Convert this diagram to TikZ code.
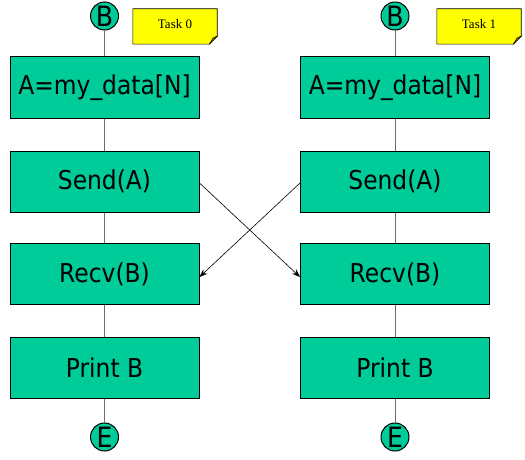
\documentclass[tikz,border=0pt]{standalone}
\usepackage{fontspec}
\newfontfamily\boxfont{DejaVu Sans}[FakeStretch=0.9]
\newfontfamily\notefont{Liberation Serif}
\definecolor{boxgreen}{RGB}{0,204,153}
\definecolor{noteyellow}{RGB}{255,255,0}
\definecolor{linegray}{RGB}{110,110,110}
\tikzset{
  stepbox/.style={draw=black, line width=1pt, fill=boxgreen, minimum width=189pt, minimum height=61pt, inner sep=0pt, font=\boxfont\fontsize{26}{30}\selectfont},
  term/.style={circle, draw=black, line width=1pt, fill=boxgreen, minimum size=28pt, inner sep=0pt, font=\boxfont\fontsize{28}{30}\selectfont},
  vline/.style={draw=linegray, line width=0.9pt},
  xarrow/.style={draw=black, line width=0.6pt, -{Stealth[length=8pt,width=6pt]}},
  notebox/.style={minimum width=84pt, minimum height=35pt, inner sep=0pt},
}
\usetikzlibrary{arrows.meta}
\begin{document}
\begin{tikzpicture}[x=1pt,y=1pt]
\useasboundingbox (0,0) rectangle (525,459);
% left column
\node[term] (b0) at (104.5,443) {B};
\node[stepbox] (a0) at (104.5,371.5) {A=my\_data[N]};
\node[stepbox] (s0) at (104.5,277.5) {Send(A)};
\node[stepbox] (r0) at (104.5,185) {Recv(B)};
\node[stepbox] (p0) at (104.5,91.5) {Print B};
\node[term] (e0) at (104.5,22) {E};
% right column
\node[term] (b1) at (395,443) {B};
\node[stepbox] (a1) at (395,371.5) {A=my\_data[N]};
\node[stepbox] (s1) at (395,277.5) {Send(A)};
\node[stepbox] (r1) at (395,185) {Recv(B)};
\node[stepbox] (p1) at (395,91.5) {Print B};
\node[term] (e1) at (395,22) {E};
% vertical connectors
\foreach \c in {0,1}{
  \draw[vline] (b\c) -- (a\c);
  \draw[vline] (a\c) -- (s\c);
  \draw[vline] (s\c) -- (r\c);
  \draw[vline] (r\c) -- (p\c);
  \draw[vline] (p\c) -- (e\c);
}
% crossing messages
\draw[xarrow] ([yshift=-1.5pt]s0.east) -- ([yshift=-3pt]r1.west);
\draw[xarrow] ([yshift=-1.5pt]s1.west) -- ([yshift=-3pt]r0.east);
% notes
\foreach \n/\x/\t in {n0/175/Task 0, n1/479/Task 1}{
  \node[notebox] (\n) at (\x,432.5) {};
  \fill[noteyellow] (\n.north west) -- (\n.north east) -- ([yshift=8pt]\n.south east) -- ([xshift=-8pt]\n.south east) -- (\n.south west) -- cycle;
  \draw[black, line width=0.6pt] (\n.north west) -- (\n.north east) -- ([yshift=8pt]\n.south east) -- ([xshift=-8pt]\n.south east) -- (\n.south west) -- cycle;
  \filldraw[fill=noteyellow!70!black, draw=black, line width=0.5pt] ([yshift=8pt]\n.south east) .. controls ([xshift=-5pt,yshift=6pt]\n.south east) .. ([xshift=-6pt,yshift=3pt]\n.south east) -- ([xshift=-8pt]\n.south east) .. controls ([xshift=-4pt,yshift=4pt]\n.south east) .. cycle;
  \node[font=\notefont\fontsize{13}{15}\selectfont] at ([yshift=2pt]\n.center) {\t};
}
\end{tikzpicture}
\end{document}
